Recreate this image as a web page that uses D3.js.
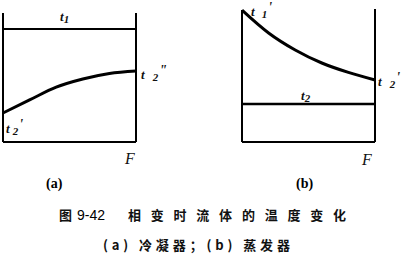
<!DOCTYPE html>
<html>
<head>
<meta charset="utf-8">
<script src="https://cdn.jsdelivr.net/npm/d3@7"></script>
<style>
  html, body { margin: 0; padding: 0; background: #fff; }
  svg { display: block; }
  .lbl { font-family: "Liberation Serif", "DejaVu Serif", serif; font-style: italic; font-weight: bold; fill: #111; }
  .cap { font-family: "Noto Sans CJK SC", sans-serif; font-weight: bold; fill: #111; }
</style>
</head>
<body>
<div id="canvas"><svg></svg></div>
<script>
// temperature along the heat-transfer area F (0..1) (0 = bottom of frame, 100 = top)
const F = [0, 0.2, 0.4, 0.6, 0.8, 1.0];
// (a) condenser: hot side condenses at constant t1, cold side heats up t2' -> t2''
const condT1 = 87.6;
const condT2 = [22.5, 32.6, 42.5, 48.8, 53.1, 55.0];
// (b) evaporator: hot side cools t1' -> t2', cold side boils at constant t2
const evapT1 = [99.2, 82.0, 69.2, 59.4, 52.3, 46.6];
const evapT2 = 28.6;

const W = 403, H = 258;
const svg = d3.select('#canvas svg').attr('width', W).attr('height', H);

const line = (sx, sy) => d3.line().x(d => sx(d[0])).y(d => sy(d[1])).curve(d3.curveMonotoneX);

// t with subscript and optional prime marks
function label(g, px, py, sub, sup, subDx) {
  const t = g.append('text').attr('class', 'lbl').attr('x', px).attr('y', py).style('font-size', '13px');
  t.append('tspan').text('t');
  t.append('tspan').attr('dx', subDx).attr('dy', 2).style('font-size', '11px').text(sub);
  if (sup) t.append('tspan').attr('dx', 1).attr('dy', -6).style('font-size', '14px').text(sup);
}

function frameLine(g, x1, y1, x2, y2, w) {
  g.append('line').attr('x1', x1).attr('x2', x2).attr('y1', y1).attr('y2', y2)
    .attr('stroke', '#000').attr('stroke-width', w || 2);
}

// ---- panel (a)
{
  const y = d3.scaleLinear().domain([0, 100]).range([142, 13]);
  const sx = d3.scaleLinear().domain([0, 1]).range([3, 136]);
  const g = svg.append('g');
  frameLine(g, sx(0), y(100), sx(0), y(0));
  frameLine(g, sx(1), y(100), sx(1), y(0));
  frameLine(g, sx(0), y(0), sx(1), y(0));
  frameLine(g, sx(0), y(condT1), sx(1), y(condT1));
  g.append('path').datum(F.map((f, i) => [f, condT2[i]])).attr('d', line(sx, y))
    .attr('fill', 'none').attr('stroke', '#000').attr('stroke-width', 3);
  label(g, 60, 21, '1', null, 0);
  label(g, 141, 79, '2', '"', 8);
  label(g, 6, 133, '2', "'", 3);
  g.append('text').attr('class', 'lbl').attr('x', 125).attr('y', 164).style('font-size', '16px').style('font-weight', 'normal').text('F');
}

// ---- panel (b)
{
  const y = d3.scaleLinear().domain([0, 100]).range([142, 9]);
  const sx = d3.scaleLinear().domain([0, 1]).range([242, 375]);
  const g = svg.append('g');
  frameLine(g, sx(0), y(evapT1[0]), sx(0), y(0));
  frameLine(g, sx(1), y(100), sx(1), y(0));
  frameLine(g, sx(0), y(0), sx(1), y(0));
  frameLine(g, sx(0), y(evapT2), sx(1), y(evapT2), 2.5);
  g.append('path').datum(F.map((f, i) => [f, evapT1[i]])).attr('d', line(sx, y))
    .attr('fill', 'none').attr('stroke', '#000').attr('stroke-width', 3);
  label(g, 251, 16, '1', "'", 7);
  label(g, 301, 100, '2', null, 0);
  label(g, 378, 86, '2', "'", 8);
  g.append('text').attr('class', 'lbl').attr('x', 362).attr('y', 165).style('font-size', '16px').style('font-weight', 'normal').text('F');
}

// ---- captions
const sub = svg.append('g').style('font-family', '"Liberation Serif", serif').style('font-weight', 'bold').style('font-size', '14px');
sub.append('text').attr('x', 46).attr('y', 188).text('(a)');
sub.append('text').attr('x', 296).attr('y', 188).text('(b)');
svg.append('text').attr('class', 'cap').attr('x', 59).attr('y', 220).style('font-size', '13px').text('图');
svg.append('text').attr('x', 77).attr('y', 220).style('font-family', '"Liberation Sans", sans-serif').style('font-size', '14px').text('9-42');
svg.append('text').attr('class', 'cap').attr('x', 128).attr('y', 220).style('font-size', '13px')
  .attr('textLength', 218).attr('lengthAdjust', 'spacing').text('相变时流体的温度变化');
svg.append('text').attr('class', 'cap').attr('x', 103).attr('y', 250).style('font-size', '13px')
  .attr('textLength', 187).attr('lengthAdjust', 'spacing').text('(a) 冷凝器；(b) 蒸发器');
</script>
</body>
</html>
